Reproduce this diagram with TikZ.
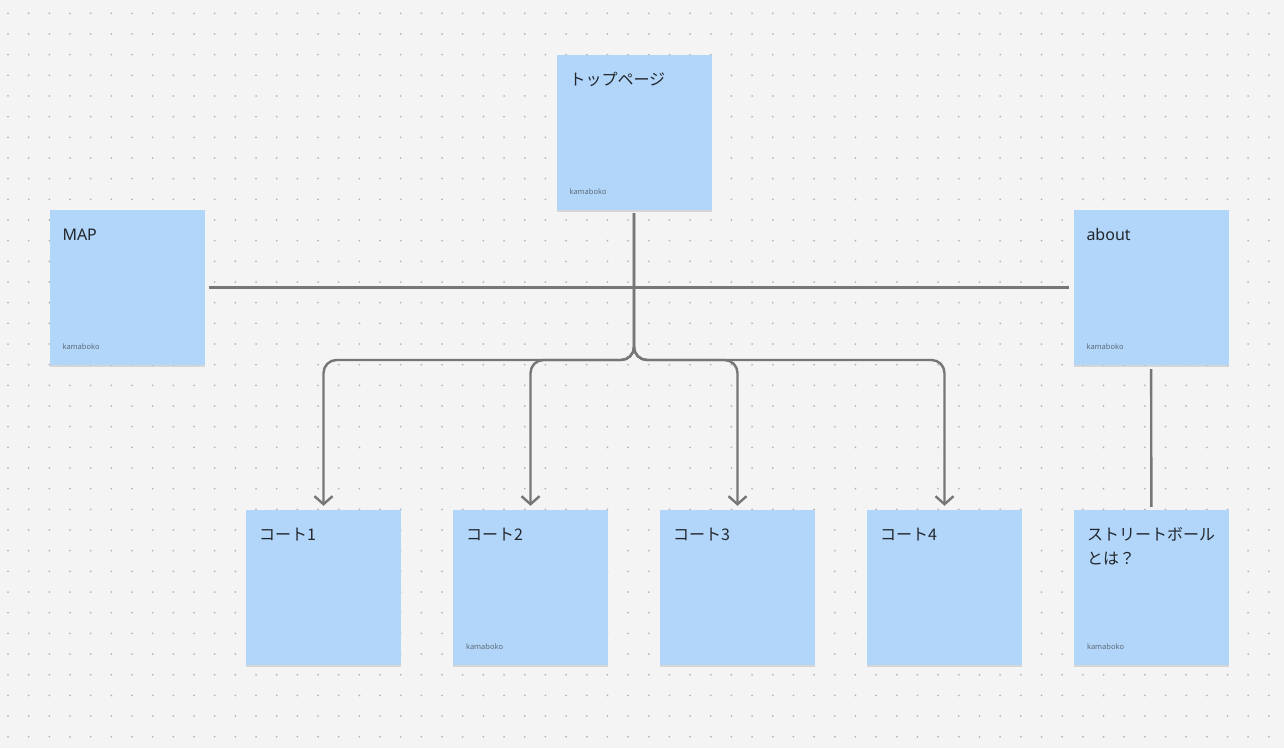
\documentclass[tikz,border=0pt]{standalone}
\usepackage{fontspec}
\setmainfont{Noto Sans}
\newfontfamily\jp{Noto Sans CJK JP}
\usetikzlibrary{arrows.meta,shadows}
\definecolor{bg}{HTML}{F4F4F4}
\definecolor{dotc}{HTML}{B6B6B6}
\definecolor{sticky}{HTML}{B1D6FA}
\definecolor{linec}{HTML}{767676}
\definecolor{txt}{HTML}{23272C}
\definecolor{kamac}{HTML}{5E6B79}
\tikzset{
  note/.style={fill=sticky, minimum width=155pt, minimum height=155pt, inner sep=0pt,
    drop shadow={shadow xshift=0pt, shadow yshift=-2pt, opacity=0.12, fill=black}},
  title/.style={inner sep=0pt, text=txt, font=\fontsize{16}{24}\selectfont, anchor=base west, align=left},
  kama/.style={inner sep=0pt, text=kamac, font=\fontsize{7.5}{9}\selectfont, anchor=base west},
  conn/.style={draw=linec, line width=2.4pt, rounded corners=13pt},
  arr/.style={-{Straight Barb[length=8pt,width=18pt,line width=2.4pt]}, shorten >=4pt, shorten <=3pt}
}
\begin{document}
\begin{tikzpicture}[x=1pt,y=-1pt]
\fill[bg] (0,0) rectangle (1284,748);
\useasboundingbox (0,0) rectangle (1284,748);
\foreach \i in {0,...,61} {
  \foreach \j in {0,...,35} {
    \fill[dotc] (8+20.67*\i, 13.3+20.67*\j) circle (1pt);
  }
}
% notes
\node[note] (top) at (634,132.5) {};
\node[note] (map) at (127,287.5) {};
\node[note] (about) at (1151,287.5) {};
\node[note] (c1) at (323.5,587.5) {};
\node[note] (c2) at (530.5,587.5) {};
\node[note] (c3) at (737.5,587.5) {};
\node[note] (c4) at (944.5,587.5) {};
\node[note] (street) at (1151.5,587.5) {};
% titles
\node[title] (ttop) at ([xshift=13pt,yshift=-31pt]top.north west) {\jp トップページ};
\node[title] (tmap) at ([xshift=13pt,yshift=-31pt]map.north west) {MAP};
\node[title] (tabout) at ([xshift=13pt,yshift=-31pt]about.north west) {about};
\node[title] (tc1) at ([xshift=13pt,yshift=-31pt]c1.north west) {\jp コート1};
\node[title] (tc2) at ([xshift=13pt,yshift=-31pt]c2.north west) {\jp コート2};
\node[title] (tc3) at ([xshift=13pt,yshift=-31pt]c3.north west) {\jp コート3};
\node[title] (tc4) at ([xshift=13pt,yshift=-31pt]c4.north west) {\jp コート4};
\node[title] (tstreet) at ([xshift=13pt,yshift=-55pt]street.north west) {\jp ストリートボール\\\jp とは？};
% authors
\node[kama] (ktop) at ([xshift=13pt,yshift=16pt]top.south west) {kamaboko};
\node[kama] (kmap) at ([xshift=13pt,yshift=16pt]map.south west) {kamaboko};
\node[kama] (kabout) at ([xshift=13pt,yshift=16pt]about.south west) {kamaboko};
\node[kama] (kc2) at ([xshift=13pt,yshift=16pt]c2.south west) {kamaboko};
\node[kama] (kstreet) at ([xshift=13pt,yshift=16pt]street.south west) {kamaboko};
% connectors
\draw[conn, shorten <=4pt, shorten >=4pt] (map) -- (about);
\draw[conn, shorten <=4pt, shorten >=3pt] (about) -- (street);
\coordinate (bus) at (634,360);
\foreach \c in {c1,c2,c3,c4} {
  \draw[conn,arr] (top.south) -- (bus) -| (\c.north);
}
\end{tikzpicture}
\end{document}
